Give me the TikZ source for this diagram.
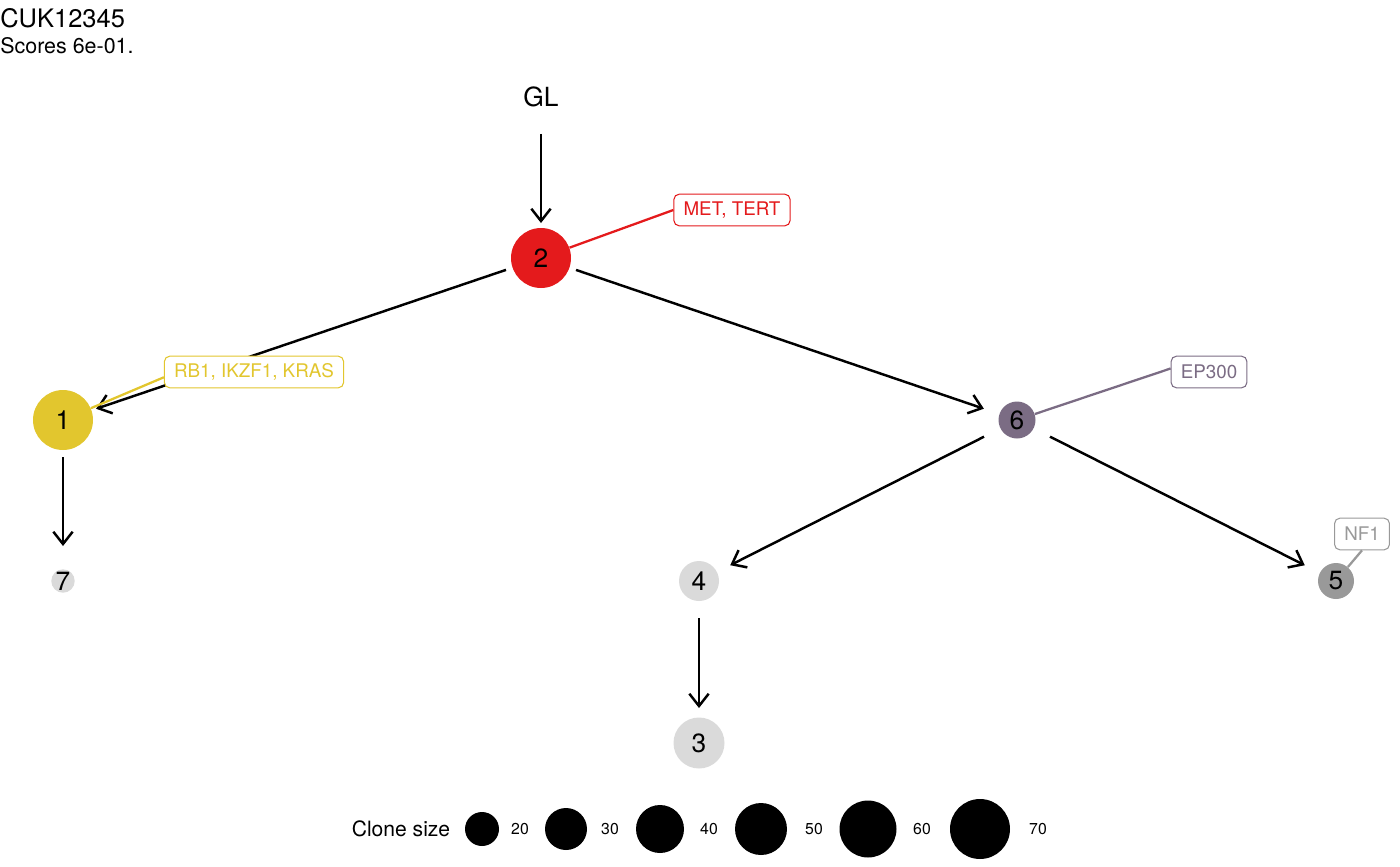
\documentclass[tikz,border=0pt]{standalone}
\usepackage{fontspec}
\setmainfont{TeX Gyre Heros}
\usetikzlibrary{arrows.meta}
\definecolor{cred}{HTML}{E41A1C}
\definecolor{cyel}{HTML}{E2C62E}
\definecolor{cpur}{HTML}{7B6C84}
\definecolor{cgray}{HTML}{999999}
\definecolor{clight}{HTML}{DADADA}
\begin{document}
\begin{tikzpicture}[x=0.02cm,y=-0.02cm,
  arr/.style={draw=black, line width=1.4pt, -{Straight Barb[length=7pt,width=11pt,line width=1.4pt]}, shorten <=0.74cm, shorten >=0.70cm},
  clone/.style={circle, inner sep=0pt, font=\fontsize{15}{15}\selectfont},
  lab/.style={draw, fill=white, rounded corners=3pt, line width=0.6pt, inner xsep=5.5pt, inner ysep=0pt, minimum height=18pt, font=\fontsize{10.7}{10.7}\selectfont},
  link/.style={line width=1.3pt},
  leg/.style={circle, fill=black, inner sep=0pt},
  legnum/.style={font=\fontsize{9}{9}\selectfont, inner sep=0pt}]
\useasboundingbox (0,0) rectangle (1400,866);
% titles
\node[anchor=base west, inner sep=0pt, font=\fontsize{14.5}{15}\selectfont] (title) at (0,27) {CUK12345};
\node[anchor=base west, inner sep=0pt, font=\fontsize{12.2}{13}\selectfont] (sub) at (0,53) {Scores 6e-01.};
% nodes
\node[inner sep=0pt, font=\fontsize{15}{15}\selectfont] (gl) at (541,97) {GL};
\node[clone, fill=cred, minimum size=1.2cm] (n2) at (541,258) {2};
\node[clone, fill=cyel, minimum size=1.2cm] (n1) at (63,420) {1};
\node[clone, fill=cpur, minimum size=0.74cm] (n6) at (1017,420) {6};
\node[clone, fill=clight, minimum size=0.4cm] (n7) at (63,581) {7};
\node[clone, fill=clight, minimum size=0.8cm] (n4) at (699,581) {4};
\node[clone, fill=cgray, minimum size=0.72cm] (n5) at (1336,581) {5};
\node[clone, fill=clight, minimum size=1.02cm] (n3) at (699,743) {3};
% edges
\draw[arr] (gl.center) -- (n2.center);
\draw[arr] (n2.center) -- (n1.center);
\draw[arr] (n2.center) -- (n6.center);
\draw[arr] (n1.center) -- (n7.center);
\draw[arr] (n6.center) -- (n4.center);
\draw[arr] (n6.center) -- (n5.center);
\draw[arr] (n4.center) -- (n3.center);
% labels
\node[lab, draw=cred, text=cred] (l2) at (732,210) {MET, TERT};
\node[lab, draw=cyel, text=cyel] (l1) at (254,372) {RB1, IKZF1, KRAS};
\node[lab, draw=cpur, text=cpur] (l6) at (1209,372) {EP300};
\node[lab, draw=cgray, text=cgray] (l5) at (1362,534) {NF1};
\draw[link, cred] (n2) -- (l2.west);
\draw[link, cyel] (n1) -- ([yshift=-3]l1.west);
\draw[link, cpur] (n6) -- ([yshift=2]l6.west);
\draw[link, cgray] (n5) -- (l5.south);
% legend
\node[inner sep=0pt, font=\fontsize{12}{12}\selectfont] (legt) at (401,829) {Clone size};
\node[leg, minimum size=0.68cm] (c20) at (482,829) {};
\node[legnum] (t20) at (520,829) {20};
\node[leg, minimum size=0.84cm] (c30) at (566,829) {};
\node[legnum] (t30) at (610,829) {30};
\node[leg, minimum size=0.96cm] (c40) at (660,829) {};
\node[legnum] (t40) at (709,829) {40};
\node[leg, minimum size=1.04cm] (c50) at (761,829) {};
\node[legnum] (t50) at (814,829) {50};
\node[leg, minimum size=1.14cm] (c60) at (868,829) {};
\node[legnum] (t60) at (922,829) {60};
\node[leg, minimum size=1.2cm] (c70) at (980,829) {};
\node[legnum] (t70) at (1038,829) {70};
\end{tikzpicture}
\end{document}
